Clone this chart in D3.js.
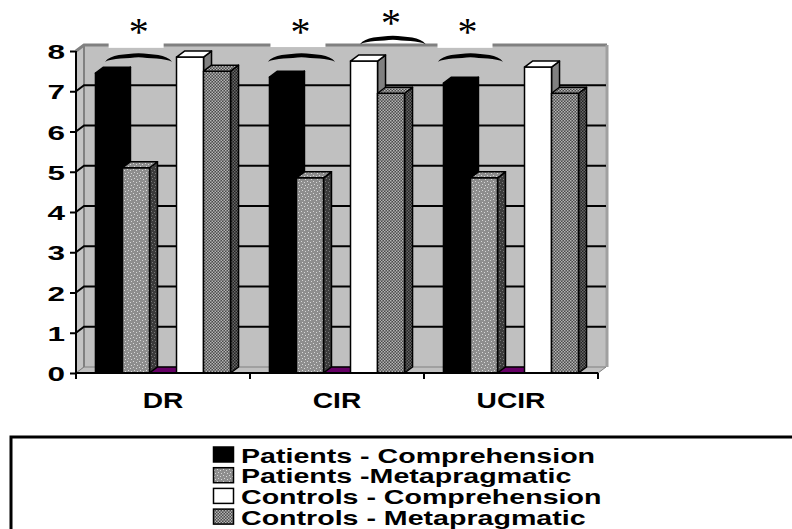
<!DOCTYPE html>
<html>
<head>
<meta charset="utf-8">
<script src="https://cdn.jsdelivr.net/npm/d3@7"></script>
<style>
  body { margin: 0; background: #fff; }
  svg { display: block; }
</style>
</head>
<body>
<script>
// chart values
const categories = ["DR", "CIR", "UCIR"];
const seriesKeys = ["pc", "pm", "blank", "cc", "cm"];
const legendNames = ["Patients - Comprehension", "Patients -Metapragmatic", "Controls - Comprehension", "Controls - Metapragmatic"];
const patientsComprehension = [7.45, 7.35, 7.2];
const patientsMetapragmatic = [5.1, 4.85, 4.85];
const blankSeries = [0, 0, 0];
const controlsComprehension = [7.85, 7.75, 7.6];
const controlsMetapragmatic = [7.5, 6.95, 6.95];
const yTicks = [0, 1, 2, 3, 4, 5, 6, 7, 8];

// significance marks: category, span inside the band (0..1), level in y units
const sigCats = ["DR", "CIR", "CIR", "UCIR"];
const sigFrom = [0.167, 0.103, 0.632, 0.08];
const sigTo = [0.552, 0.489, 1.01, 0.454];
const sigLevel = [7.83, 7.83, 8.27, 7.83];
const starLevel = [8.6, 8.62, 8.83, 8.6];
const starShift = [0.36, 0.29, 0.81, 0.25];

const seriesValues = {
  pc: patientsComprehension, pm: patientsMetapragmatic, blank: blankSeries,
  cc: controlsComprehension, cm: controlsMetapragmatic
};

const width = 792, height = 529;
const pLeft = 76, pRight = 598, pTop = 51, pBottom = 373;
const dx = 8, dy = -6;

const svg = d3.select("body").append("svg")
    .attr("width", width)
    .attr("height", height);

const defs = svg.append("defs");

// patterns
function checker(id, a, b, size) {
  const p = defs.append("pattern").attr("id", id)
      .attr("patternUnits", "userSpaceOnUse").attr("width", size * 2).attr("height", size * 2);
  p.append("rect").attr("width", size * 2).attr("height", size * 2).attr("fill", a);
  p.append("rect").attr("width", size).attr("height", size).attr("fill", b);
  p.append("rect").attr("x", size).attr("y", size).attr("width", size).attr("height", size).attr("fill", b);
}
checker("cmFront", "#4a4a4a", "#b4b4b4", 1.5);
checker("cmSide", "#222", "#6a6a6a", 1.5);

function dots(id, base, dot) {
  const p = defs.append("pattern").attr("id", id)
      .attr("patternUnits", "userSpaceOnUse").attr("width", 6).attr("height", 6);
  p.append("rect").attr("width", 6).attr("height", 6).attr("fill", base);
  [[1, 1], [4, 2], [2, 4], [5, 5]].forEach(function(d) {
    p.append("rect").attr("x", d[0]).attr("y", d[1]).attr("width", 1).attr("height", 1).attr("fill", dot);
  });
}
dots("pmFront", "#8e8e8e", "#d8d8d8");
dots("pmSide", "#3c3c3c", "#7a7a7a");

const frontFill = {pc: "#000", pm: "url(#pmFront)", blank: "#5a005a", cc: "#fff", cm: "url(#cmFront)"};
const sideFill = {pc: "#000", pm: "url(#pmSide)", blank: "#5a005a", cc: "#808080", cm: "url(#cmSide)"};
const topFill = {pc: "#000", pm: "url(#pmFront)", blank: "#660066", cc: "#fff", cm: "url(#cmFront)"};

// scales
const x0 = d3.scaleBand().domain(categories).range([pLeft, pRight]);
const x1 = d3.scaleBand().domain(seriesKeys).range([0, x0.bandwidth()]).paddingOuter(0.72);
const y = d3.scaleLinear().domain([0, 8]).range([pBottom, pTop]);

function stretch(sel, sx) {
  sel.each(function() {
    const t = d3.select(this);
    const tx = +t.attr("x") || 0, ty = +t.attr("y") || 0;
    t.attr("x", 0).attr("y", 0)
     .attr("transform", "translate(" + tx + "," + ty + ") scale(" + sx + ",1)");
  });
}

// walls and floor
svg.append("rect")
    .attr("x", pLeft + dx).attr("y", pTop + dy)
    .attr("width", pRight - pLeft).attr("height", pBottom - pTop)
    .attr("fill", "#c0c0c0");
svg.append("polygon")
    .attr("points", [[pLeft, pTop], [pLeft + dx, pTop + dy], [pLeft + dx, pBottom + dy], [pLeft, pBottom]].join(" "))
    .attr("fill", "#c4c4c4").attr("stroke", "#8a8a8a").attr("stroke-width", 1);
svg.append("polygon")
    .attr("points", [[pLeft, pBottom], [pLeft + dx, pBottom + dy], [pRight + dx, pBottom + dy], [pRight, pBottom]].join(" "))
    .attr("fill", "#c0c0c0").attr("stroke", "#808080").attr("stroke-width", 1);
svg.append("path")
    .attr("d", "M" + (pLeft + dx) + "," + (pBottom + dy) + "V" + (pTop + dy))
    .attr("stroke", "#808080").attr("stroke-width", 2).attr("fill", "none");
svg.append("path")
    .attr("d", "M" + pLeft + "," + pTop + "L" + (pLeft + dx) + "," + (pTop + dy) + "H" + (pRight + dx + 1))
    .attr("stroke", "#808080").attr("stroke-width", 3).attr("fill", "none");
svg.append("path")
    .attr("d", "M" + (pRight + dx + 1) + "," + (pTop + dy) + "V" + (pBottom + dy))
    .attr("stroke", "#a0a0a0").attr("stroke-width", 3).attr("fill", "none");

// gridlines on back and side wall
const grid = svg.append("g");
yTicks.filter(function(t) { return t > 0 && t < 8; }).forEach(function(t) {
  grid.append("path")
      .attr("d", "M" + pLeft + "," + y(t) + "L" + (pLeft + dx) + "," + (y(t) + dy) + "H" + (pRight + dx))
      .attr("stroke", "#000").attr("stroke-width", 2).attr("fill", "none");
});

// bars
const bars = svg.append("g");
categories.forEach(function(cat, ci) {
  seriesKeys.forEach(function(key) {
    const v = seriesValues[key][ci];
    const bx = x0(cat) + x1(key), bw = x1.bandwidth();
    const by = y(v), b0 = y(0);
    const g = bars.append("g").attr("stroke", "#000").attr("stroke-width", 1.5).attr("stroke-linejoin", "round");
    if (v > 0) {
      g.append("polygon")
          .attr("points", [[bx + bw, by], [bx + bw + dx, by + dy], [bx + bw + dx, b0 + dy], [bx + bw, b0]].join(" "))
          .attr("fill", sideFill[key]);
      g.append("rect")
          .attr("x", bx).attr("y", by).attr("width", bw).attr("height", b0 - by)
          .attr("fill", frontFill[key]);
    }
    g.append("polygon")
        .attr("points", [[bx, by], [bx + dx, by + dy], [bx + bw + dx, by + dy], [bx + bw, by]].join(" "))
        .attr("fill", topFill[key]);
  });
});

// axes
const yAxis = svg.append("g")
    .attr("transform", "translate(" + pLeft + ",0)")
    .call(d3.axisLeft(y).tickValues(yTicks).tickSize(6).tickPadding(0));
yAxis.select(".domain").attr("stroke-width", 2).attr("d", "M0," + pTop + "V" + (pBottom + 5));
yAxis.selectAll(".tick line").attr("stroke-width", 2);
yAxis.selectAll(".tick text")
    .attr("font-family", "Liberation Sans, Arial, sans-serif")
    .attr("font-weight", "bold").attr("font-size", 21).attr("fill", "#000")
    .attr("x", -11).attr("dy", null).attr("y", 7.5)
    .call(stretch, 1.5);

const xAxis = svg.append("g")
    .attr("transform", "translate(0," + pBottom + ")")
    .call(d3.axisBottom(x0).tickSize(0).tickPadding(0));
xAxis.select(".domain").attr("stroke-width", 2).attr("d", "M" + pLeft + ",0H" + pRight);
xAxis.selectAll(".tick text")
    .attr("font-family", "Liberation Sans, Arial, sans-serif")
    .attr("font-weight", "bold").attr("font-size", 22).attr("fill", "#000")
    .attr("dy", null)
    .attr("transform", "translate(0,35) scale(1.28,1)").attr("y", 0);
const boundaries = categories.map(function(c) { return x0(c); }).concat([pRight]);
xAxis.selectAll("line.bound").data(boundaries).enter().append("line")
    .attr("class", "bound")
    .attr("x1", function(d) { return d; }).attr("x2", function(d) { return d; })
    .attr("y1", 0).attr("y2", 6)
    .attr("stroke", "#000").attr("stroke-width", 2);

// significance marks
sigCats.forEach(function(cat, i) {
  const ax = x0(cat) + starShift[i] * x0.bandwidth();
  const ay = y(starLevel[i]);
  svg.append("rect")
      .attr("x", ax - 30).attr("y", ay - 20).attr("width", 55).attr("height", 41)
      .attr("fill", "#fff");
});
sigCats.forEach(function(cat, i) {
  const xa = x0(cat) + sigFrom[i] * x0.bandwidth();
  const xb = x0(cat) + sigTo[i] * x0.bandwidth();
  const w = xb - xa, m = (xa + xb) / 2, yc = y(sigLevel[i]);
  svg.append("path")
      .attr("d", "M" + xa + "," + (yc + 4) +
        "C" + (xa + w * 0.08) + "," + (yc - 3.5) + " " + (m - w * 0.2) + "," + (yc - 3.5) + " " + m + "," + (yc - 4.5) +
        "C" + (m + w * 0.2) + "," + (yc - 3.5) + " " + (xb - w * 0.08) + "," + (yc - 3.5) + " " + xb + "," + (yc + 4) +
        "C" + (xb - w * 0.1) + "," + (yc + 0.5) + " " + (m + w * 0.15) + "," + (yc + 0.5) + " " + m + "," + (yc - 0.5) +
        "C" + (m - w * 0.15) + "," + (yc + 0.5) + " " + (xa + w * 0.1) + "," + (yc + 0.5) + " " + xa + "," + (yc + 4) + "Z")
      .attr("fill", "#000");
  const ax = x0(cat) + starShift[i] * x0.bandwidth();
  svg.append("text")
      .attr("x", ax).attr("y", y(starLevel[i]) + 18.5)
      .attr("text-anchor", "middle")
      .attr("font-family", "Liberation Serif, Times New Roman, serif")
      .attr("font-size", 40).attr("fill", "#000")
      .text("*");
});

// legend
svg.append("rect")
    .attr("x", 11).attr("y", 437).attr("width", 800).attr("height", 120)
    .attr("fill", "#fff").attr("stroke", "#000").attr("stroke-width", 3);
const legendKeys = ["pc", "pm", "cc", "cm"];
const legendSwatch = {pc: "#000", pm: "url(#pmFront)", cc: "#fff", cm: "url(#cmFront)"};
const legend = svg.append("g");
legendNames.forEach(function(name, i) {
  const ly = 447 + i * 20.7;
  legend.append("rect")
      .attr("x", 213.5).attr("y", ly).attr("width", 20).attr("height", 15)
      .attr("fill", legendSwatch[legendKeys[i]]).attr("stroke", "#000").attr("stroke-width", 1.5);
  legend.append("text")
      .attr("x", 241).attr("y", ly + 15.5)
      .attr("font-family", "Liberation Sans, Arial, sans-serif")
      .attr("font-weight", "bold").attr("font-size", 20).attr("fill", "#000")
      .text(name)
      .call(stretch, 1.43);
});
</script>
</body>
</html>
